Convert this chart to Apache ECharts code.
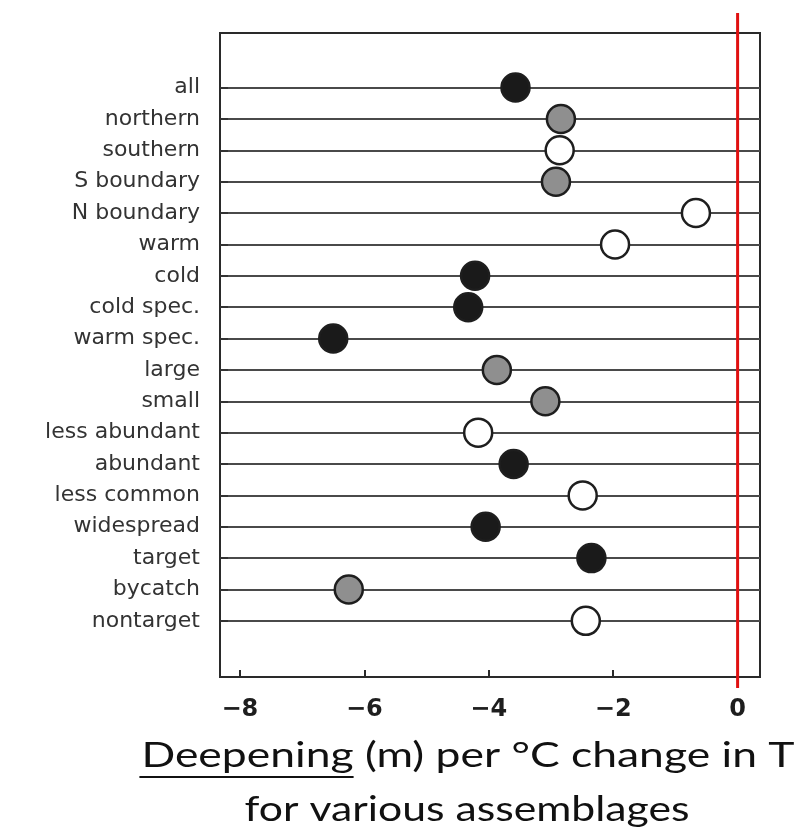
<!DOCTYPE html>
<html>
<head>
<meta charset="utf-8">
<script src="https://cdn.jsdelivr.net/npm/echarts@6/dist/echarts.min.js"></script>
<style>
  html, body { margin: 0; padding: 0; background: #fff; }
  #chart { width: 804px; height: 836px; }
</style>
</head>
<body>
<div id="chart"></div>
<script>
// assemblages, top to bottom
var groups = ["all", "northern", "southern", "S boundary", "N boundary", "warm", "cold",
    "cold spec.", "warm spec.", "large", "small", "less abundant", "abundant",
    "less common", "widespread", "target", "bycatch", "nontarget"];
// deepening (m) per degree C
var deepening = [-3.57, -2.84, -2.86, -2.92, -0.67, -1.97, -4.22, -4.33, -6.50,
    -3.87, -3.09, -4.17, -3.60, -2.49, -4.05, -2.35, -6.25, -2.44];
// marker fill per row
var shade = ["black", "gray", "white", "gray", "white", "white", "black", "black", "black",
    "gray", "gray", "white", "black", "white", "black", "black", "gray", "white"];
var xTicks = [-8, -6, -4, -2, 0];
var caption = ["Deepening", " (m) per \u00b0C change in T", "for various assemblages"];

var fillColor = { black: "#1a1a1a", gray: "#8f8f8f", white: "#ffffff" };
var rows = groups.map(function (g, i) { return i; });

var chart = echarts.init(document.getElementById("chart"));

var points = deepening.map(function (v, i) {
    return {
        value: [v, i],
        itemStyle: { color: fillColor[shade[i]] }
    };
});

var option = {
    animation: false,
    backgroundColor: "#ffffff",
    grid: {
        left: 220, right: 44, top: 33, bottom: 159,
        show: true, borderColor: "#2a2a2a", borderWidth: 2
    },
    xAxis: {
        type: "value",
        min: -8.32, max: 0.36,
        axisLine: { show: false, onZero: false },
        splitLine: { show: false },
        axisTick: {
            show: true, inside: true, length: 7,
            customValues: xTicks,
            lineStyle: { color: "#2a2a2a", width: 2 }
        },
        axisLabel: {
            customValues: xTicks,
            margin: 21,
            fontFamily: "DejaVu Sans",
            fontWeight: "bold",
            fontSize: 24,
            color: "#1e1e1e",
            formatter: function (v) { return v < 0 ? "\u2212" + Math.abs(v) : String(v); }
        }
    },
    yAxis: {
        type: "value",
        inverse: true,
        min: -1.74, max: 18.79,
        axisLine: { show: false, onZero: false },
        axisTick: {
            show: true, inside: true, length: 8,
            customValues: rows,
            lineStyle: { color: "#333", width: 2 }
        },
        splitLine: {
            show: true,
            lineStyle: { color: "#4a4a4a", width: 1.8 }
        },
        axisLabel: {
            customValues: rows,
            margin: 20,
            fontFamily: "DejaVu Sans",
            fontSize: 22,
            color: "#333333",
            formatter: function (v) { return groups[v]; }
        }
    },
    series: [{
        type: "scatter",
        symbol: "circle",
        symbolSize: 28,
        data: points,
        itemStyle: { borderColor: "#1e1e1e", borderWidth: 2.5, opacity: 1 }
    }]
};

chart.setOption(option);

// width of the underlined word, so the rule sits under it
var capFont = "35px Lato";
var stretch = 1.27;
var ctx = document.createElement("canvas").getContext("2d");
ctx.font = capFont;
var wordW = ctx.measureText(caption[0]).width * stretch;
var lineW = ctx.measureText(caption[0] + caption[1]).width * stretch;
var capX = 468;
var ulStart = capX - lineW / 2;

// zero line runs a little past the frame, as in the original
var x0 = chart.convertToPixel({ xAxisIndex: 0 }, 0);
chart.setOption({
    graphic: [
        {
            type: "line", z: 10,
            shape: { x1: x0, y1: 13, x2: x0, y2: 688 },
            style: { stroke: "#e01010", lineWidth: 3 }
        },
        {
            type: "text", x: capX, y: 756, scaleX: stretch,
            style: {
                text: caption[0] + caption[1],
                align: "center", verticalAlign: "middle",
                fontFamily: "Lato", fontSize: 35, fill: "#111"
            }
        },
        {
            type: "text", x: 467, y: 810, scaleX: 1.22,
            style: {
                text: caption[2],
                align: "center", verticalAlign: "middle",
                fontFamily: "Lato", fontSize: 35, fill: "#111"
            }
        },
        {
            type: "line",
            shape: { x1: ulStart - 2, y1: 777, x2: ulStart + wordW, y2: 777 },
            style: { stroke: "#111", lineWidth: 2 }
        }
    ]
});
</script>
</body>
</html>
